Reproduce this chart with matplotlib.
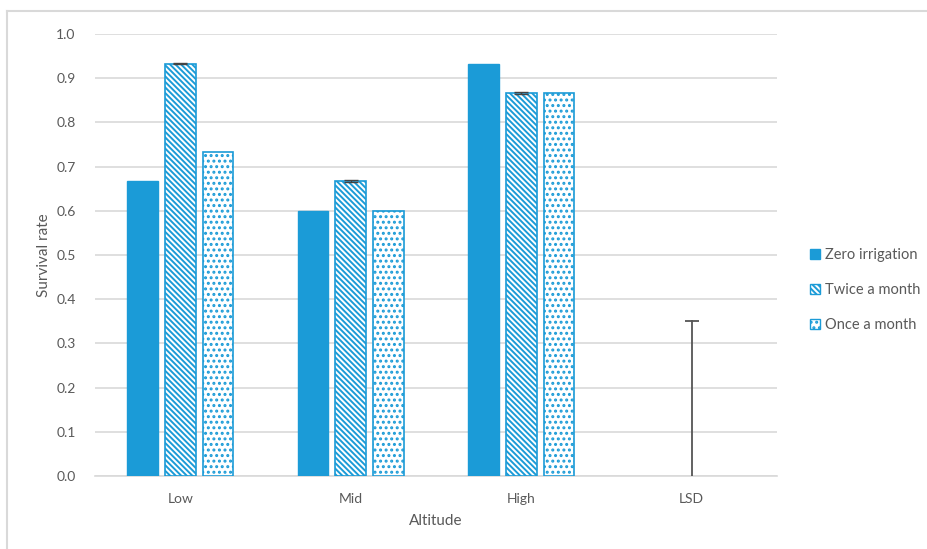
import matplotlib.pyplot as plt
from matplotlib.lines import Line2D
import numpy as np

plt.rcParams['font.family'] = ['Lato', 'DejaVu Sans']
plt.rcParams['hatch.color'] = '#1b9bd7'
plt.rcParams['hatch.linewidth'] = 1.4

categories = ["Low", "Mid", "High", "LSD"]
series = ["Zero irrigation", "Twice a month", "Once a month"]
zero_irrigation = [0.667, 0.600, 0.933, 0]
twice_month = [0.933, 0.667, 0.867, 0]
once_month = [0.733, 0.600, 0.867, 0]
twice_err = [0.002, 0.002, 0.002, 0]
lsd_value = 0.35

blue = '#1b9bd7'
grey = '#595959'
stripe = '\\\\\\\\\\\\'
dots = '...'

fig = plt.figure(figsize=(9.27, 5.49), dpi=100)
ax = fig.add_axes([95 / 927, 1 - 476 / 549, 682 / 927, 442 / 549])

x = np.arange(len(categories))
w = 0.18
step = 0.222

ax.bar(x[:3] - step, zero_irrigation[:3], w, color=blue, edgecolor=blue, zorder=3)
ax.bar(x[:3], twice_month[:3], w, color='white', edgecolor=blue, hatch=stripe,
       linewidth=1.2, zorder=3)
ax.errorbar(x[:3], twice_month[:3], yerr=twice_err[:3], fmt='none', ecolor='#444444',
            capsize=5, elinewidth=1, zorder=4)
ax.bar(x[:3] + step, once_month[:3], w, color='white', edgecolor=blue, hatch=dots,
       linewidth=1.2, zorder=3)

# LSD shown as a single upper error bar from zero
ax.plot([x[3], x[3]], [0, lsd_value], color='#555555', lw=1.3, zorder=4)
ax.plot([x[3]], [lsd_value], marker='_', markersize=10, mew=1.3, color='#555555', zorder=4)

ax.set_xlim(-0.5, 3.5)
ax.set_ylim(0, 1.0)
ax.set_yticks(np.arange(0, 1.01, 0.1))
ax.set_yticklabels(["%.1f" % v for v in np.arange(0, 1.01, 0.1)])
ax.set_xticks(x)
ax.set_xticklabels(categories)
ax.yaxis.grid(True, color='#d9d9d9', linewidth=1.2, zorder=0)
for s in ['top', 'right', 'left']:
    ax.spines[s].set_visible(False)
ax.spines['bottom'].set_color('#d9d9d9')
ax.spines['bottom'].set_linewidth(1.2)
ax.tick_params(axis='both', length=0, colors=grey, labelsize=10)
ax.tick_params(axis='y', pad=14)
ax.tick_params(axis='x', pad=12)
ax.set_xlabel("Altitude", color=grey, fontsize=11, labelpad=7)
ax.set_ylabel("Survival rate", color=grey, fontsize=11, labelpad=4)

handles = [
    plt.Rectangle((0, 0), 1, 1, facecolor=blue, edgecolor=blue),
    plt.Rectangle((0, 0), 1, 1, facecolor='white', edgecolor=blue, hatch=stripe),
    plt.Rectangle((0, 0), 1, 1, facecolor='white', edgecolor=blue, hatch=dots),
]
leg = fig.legend(handles, series, loc='upper left', bbox_to_anchor=(797 / 927, 1 - 235 / 549),
                 frameon=False, handlelength=0.7, handleheight=0.7, handletextpad=0.3,
                 labelspacing=1.45, fontsize=10.5)
for t in leg.get_texts():
    t.set_color(grey)

# outer chart border
fig.add_artist(Line2D([7 / 927, 1], [1 - 11 / 549, 1 - 11 / 549], color='#d9d9d9', lw=1.5))
fig.add_artist(Line2D([7 / 927, 7 / 927], [0, 1 - 11 / 549], color='#d9d9d9', lw=1.5))

fig.savefig("out.png", dpi=100)
